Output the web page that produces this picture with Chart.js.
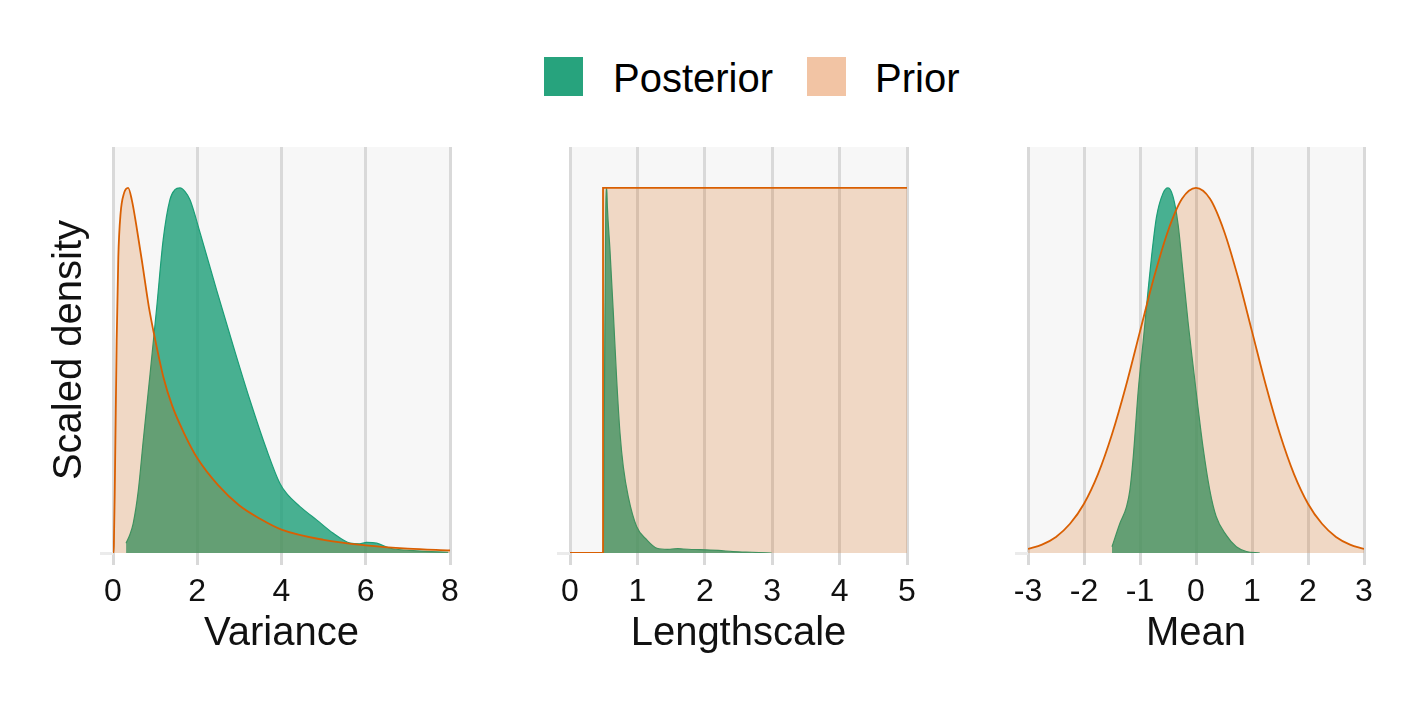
<!DOCTYPE html>
<html>
<head>
<meta charset="utf-8">
<script src="https://cdn.jsdelivr.net/npm/chart.js@4.4.0/dist/chart.umd.min.js"></script>
<style>
  body { margin: 0; background: #fff; width: 1417px; height: 708px; position: relative; overflow: hidden;
         font-family: "Liberation Sans", Arial, sans-serif; }
  canvas { position: absolute; top: 0; }
  .key { position: absolute; top: 57px; width: 39px; height: 39px; }
  .lab { position: absolute; top: 58px; font-size: 40px; line-height: 40px; color: #000; white-space: nowrap; }
</style>
</head>
<body>
<div class="key" style="left:544px;background:#27a37d"></div>
<div class="lab" style="left:613px">Posterior</div>
<div class="key" style="left:807px;background:#f2c4a4"></div>
<div class="lab" style="left:875px">Prior</div>

<canvas id="varChart" width="480" height="708" style="left:0px"></canvas>
<canvas id="lenChart" width="470" height="708" style="left:480px"></canvas>
<canvas id="meanChart" width="467" height="708" style="left:950px"></canvas>

<script>
// tick labels
const varianceTicks = [0, 2, 4, 6, 8];
const lengthTicks = [0, 1, 2, 3, 4, 5];
const meanTicks = [-3, -2, -1, 0, 1, 2, 3];

// variance panel (scaled density)
const varPriorX = [0, 0.02, 0.047, 0.087, 0.126, 0.18, 0.26, 0.36, 0.45, 0.55, 0.7, 0.85, 1.0, 1.2, 1.4, 1.7, 2.0, 2.5, 3.0, 3.5, 4.0, 5.0, 6.0, 7.0, 8.0];
const varPriorY = [0, 0.02, 0.22, 0.58, 0.81, 0.93, 0.985, 1.0, 0.965, 0.9, 0.79, 0.675, 0.585, 0.48, 0.405, 0.325, 0.26, 0.185, 0.13, 0.093, 0.064, 0.036, 0.021, 0.012, 0.007];
const varPostX = [0.31, 0.4, 0.48, 0.6, 0.72, 0.88, 1.04, 1.19, 1.35, 1.47, 1.59, 1.71, 1.83, 2.07, 2.46, 2.86, 3.25, 3.65, 3.96, 4.12, 4.44, 4.84, 5.23, 5.63, 5.85, 6.02, 6.26, 6.58, 7.2, 7.96];
const varPostY = [0.027, 0.05, 0.081, 0.17, 0.31, 0.49, 0.675, 0.857, 0.967, 0.995, 1.0, 0.99, 0.967, 0.876, 0.72, 0.565, 0.419, 0.282, 0.191, 0.163, 0.127, 0.09, 0.054, 0.027, 0.025, 0.029, 0.027, 0.013, 0.006, 0.002];

// lengthscale panel
const lenPriorX = [0, 0.49, 0.49, 5];
const lenPriorY = [0, 0, 1, 1];
const lenPostX = [0.495, 0.51, 0.53, 0.545, 0.554, 0.593, 0.643, 0.693, 0.742, 0.791, 0.865, 0.99, 1.14, 1.29, 1.45, 1.6, 1.68, 1.93, 2.2, 2.42, 2.7, 2.99];
const lenPostY = [0, 0.4, 0.92, 1.0, 0.95, 0.83, 0.657, 0.474, 0.328, 0.236, 0.154, 0.072, 0.036, 0.013, 0.01, 0.012, 0.011, 0.009, 0.007, 0.004, 0.002, 0];

// mean panel
const meanPriorX = [-3, -2.75, -2.5, -2.25, -2, -1.75, -1.5, -1.25, -1, -0.75, -0.5, -0.25, 0, 0.25, 0.5, 0.75, 1, 1.25, 1.5, 1.75, 2, 2.25, 2.5, 2.75, 3];
const meanPriorY = [0.011, 0.023, 0.044, 0.08, 0.135, 0.216, 0.325, 0.458, 0.607, 0.755, 0.882, 0.97, 1, 0.97, 0.882, 0.755, 0.607, 0.458, 0.325, 0.216, 0.135, 0.08, 0.044, 0.023, 0.011];
const meanPostX = [-1.5, -1.36, -1.24, -1.18, -1.12, -1.03, -0.94, -0.855, -0.795, -0.706, -0.59, -0.5, -0.41, -0.32, -0.23, -0.14, -0.05, 0.035, 0.125, 0.245, 0.36, 0.54, 0.72, 0.9, 1.14];
const meanPostY = [0.017, 0.081, 0.127, 0.173, 0.264, 0.447, 0.584, 0.72, 0.81, 0.92, 0.985, 1.0, 0.976, 0.9, 0.766, 0.63, 0.51, 0.40, 0.29, 0.173, 0.1, 0.049, 0.017, 0.004, 0];

const family = '"Liberation Sans", Arial, sans-serif';

// grey panel background
const panelBg = {
  id: 'panelBg',
  beforeDraw(chart) {
    const { ctx, chartArea: a } = chart;
    ctx.save();
    ctx.fillStyle = '#f7f7f7';
    ctx.fillRect(a.left, a.top, a.right - a.left, a.bottom - a.top);
    ctx.restore();
  }
};

function toPoints(xs, ys) {
  return xs.map((x, i) => ({ x: x, y: ys[i] }));
}

function makePanel(id, priorX, priorY, postX, postY, ticks, xTitle, yTitle, padL, padR, yWidth, smoothPrior) {
  return new Chart(document.getElementById(id), {
    type: 'scatter',
    data: {
      datasets: [{
        label: 'Prior',
        data: toPoints(priorX, priorY),
        showLine: true,
        borderColor: '#d95f02',
        borderWidth: 1.8,
        backgroundColor: 'rgba(217,95,2,0.2)',
        fill: 'origin',
        pointRadius: 0,
        tension: 0,
        cubicInterpolationMode: smoothPrior ? 'monotone' : 'default'
      }, {
        label: 'Posterior',
        data: toPoints(postX, postY),
        showLine: true,
        borderColor: '#1b9e77',
        borderWidth: 1.2,
        backgroundColor: 'rgba(27,158,119,0.8)',
        fill: 'origin',
        pointRadius: 0,
        cubicInterpolationMode: 'monotone'
      }]
    },
    options: {
      responsive: false,
      animation: false,
      devicePixelRatio: 1,
      layout: { padding: { left: padL, right: padR, top: 147, bottom: 50 } },
      plugins: { legend: { display: false }, tooltip: { enabled: false } },
      scales: {
        x: {
          type: 'linear',
          min: ticks[0],
          max: ticks[ticks.length - 1],
          afterBuildTicks: s => { s.ticks = ticks.map(v => ({ value: v })); },
          afterFit: s => { s.height = 105; },
          grid: { color: '#d9d9d9', lineWidth: 3, tickLength: 12, drawTicks: true },
          border: { display: false },
          ticks: { font: { size: 32, family: family }, color: '#111', padding: 8, maxRotation: 0, autoSkip: false },
          title: { display: true, text: xTitle, font: { size: 40, family: family }, color: '#111', padding: { top: 0, bottom: 0 } }
        },
        y: {
          min: 0,
          max: 1.112,
          afterBuildTicks: s => { s.ticks = [{ value: 0 }]; },
          afterFit: s => { s.width = yWidth; },
          grid: { drawOnChartArea: false, color: '#ebebeb', lineWidth: 3, tickLength: 13 },
          border: { display: false },
          ticks: { callback: () => '', padding: 0 },
          title: { display: !!yTitle, text: yTitle || '', font: { size: 40, family: family }, color: '#111', padding: { top: 26, bottom: 0 } }
        }
      }
    },
    plugins: [panelBg]
  });
}

makePanel('varChart', varPriorX, varPriorY, varPostX, varPostY, varianceTicks, 'Variance', 'Scaled density', 20, 30, 93, true);
makePanel('lenChart', lenPriorX, lenPriorY, lenPostX, lenPostY, lengthTicks, 'Lengthscale', null, 77, 43, 13, false);
makePanel('meanChart', meanPriorX, meanPriorY, meanPostX, meanPostY, meanTicks, 'Mean', null, 65, 53, 13, true);
</script>
</body>
</html>
